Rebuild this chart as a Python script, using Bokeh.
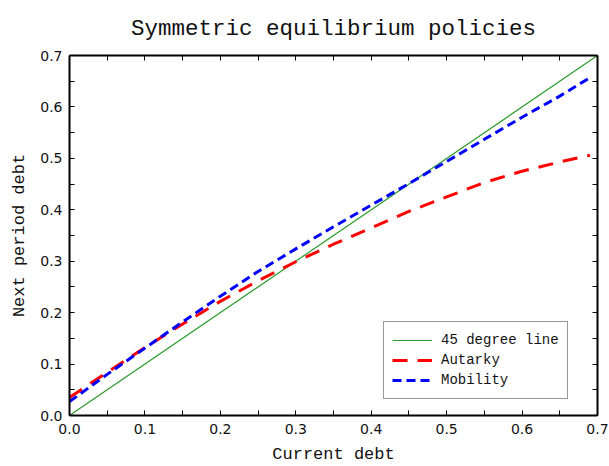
from bokeh.plotting import figure
from bokeh.models import (Range1d, LinearAxis, FixedTicker, Legend, LegendItem)
from bokeh.embed import file_html
from bokeh.resources import INLINE

# ---- data ----
diag_x = [0.0, 0.7]
diag_y = [0.0, 0.7]

debt_grid = [0.0, 0.05, 0.10, 0.15, 0.20, 0.25, 0.30, 0.35, 0.40, 0.45,
             0.50, 0.55, 0.60, 0.65, 0.69]
autarky = [0.035, 0.084, 0.132, 0.178, 0.222, 0.262, 0.299, 0.333, 0.365,
           0.397, 0.425, 0.453, 0.475, 0.493, 0.506]
mobility = [0.027, 0.080, 0.131, 0.182, 0.232, 0.280, 0.324, 0.367, 0.409,
            0.451, 0.494, 0.537, 0.580, 0.621, 0.657]

tick_values = [0.0, 0.1, 0.2, 0.3, 0.4, 0.5, 0.6, 0.7]
tick_labels = ["0.0", "0.1", "0.2", "0.3", "0.4", "0.5", "0.6", "0.7"]
minor_values = [0.05, 0.15, 0.25, 0.35, 0.45, 0.55, 0.65]

series_names = ["45 degree line", "Autarky", "Mobility"]

SERIF_MONO = "Liberation Mono"
TICK_FONT = "DejaVu Sans"

p = figure(width=609, height=466, output_backend="svg", toolbar_location=None,
           x_range=Range1d(0, 0.7), y_range=Range1d(0, 0.7),
           x_axis_label="Current debt", y_axis_label="Next period debt",
           title="Symmetric equilibrium policies",
           min_border_left=69, min_border_right=12, min_border_top=55,
           min_border_bottom=51)

p.title.align = "center"
p.title.text_font = SERIF_MONO
p.title.text_font_size = "22.5px"
p.title.text_font_style = "normal"
p.title.text_color = "#111111"
p.title.standoff = 27

p.xgrid.visible = False
p.ygrid.visible = False
p.outline_line_color = None
p.background_fill_color = "white"
p.border_fill_color = "white"

overrides = {v: l for v, l in zip(tick_values, tick_labels)}

top_axis = LinearAxis()
right_axis = LinearAxis()
p.add_layout(top_axis, "above")
p.add_layout(right_axis, "right")
bottom_axis = p.below[0]
left_axis = p.left[0]

for ax in [bottom_axis, left_axis, top_axis, right_axis]:
    ax.ticker = FixedTicker(ticks=tick_values, minor_ticks=minor_values)
    ax.major_label_overrides = overrides
    ax.axis_line_color = "black"
    ax.axis_line_width = 2
    ax.major_tick_in = 5
    ax.major_tick_out = 0
    ax.minor_tick_in = 5
    ax.minor_tick_out = 0
    ax.major_tick_line_color = "black"
    ax.minor_tick_line_color = "black"
    ax.major_tick_line_width = 1
    ax.minor_tick_line_width = 1
    ax.major_label_text_font = TICK_FONT
    ax.major_label_text_font_size = "14px"
    ax.major_label_text_color = "#111111"
    ax.axis_label_text_font = SERIF_MONO
    ax.axis_label_text_font_size = "17px"
    ax.axis_label_text_font_style = "normal"
    ax.axis_label_text_color = "#111111"

for ax in [top_axis, right_axis]:
    ax.major_label_text_font_size = "0px"
    ax.major_label_text_alpha = 0
right_axis.major_label_standoff = 0
top_axis.major_label_standoff = 13
top_axis.axis_label_standoff = 11

bottom_axis.major_label_standoff = 8
bottom_axis.axis_label_standoff = 8
left_axis.major_label_standoff = 7
left_axis.axis_label_standoff = 8

r_diag = p.line(diag_x, diag_y, line_color="#2a9a2a", line_width=1.2)
r_aut = p.line(debt_grid, autarky, line_color="red", line_width=3,
               line_dash="15 10")
r_mob = p.line(debt_grid, mobility, line_color="blue", line_width=3,
               line_dash="9 5")

legend = Legend(items=[LegendItem(label=series_names[0], renderers=[r_diag]),
                       LegendItem(label=series_names[1], renderers=[r_aut]),
                       LegendItem(label=series_names[2], renderers=[r_mob])],
                location=(314, 16))
legend.label_text_font = SERIF_MONO
legend.label_text_font_size = "14px"
legend.label_text_color = "#111111"
legend.glyph_width = 40
legend.glyph_height = 20
legend.label_height = 20
legend.spacing = 0
legend.padding = 8
legend.margin = 0
legend.label_standoff = 9
legend.border_line_color = "#333333"
legend.border_line_width = 1
legend.background_fill_color = "white"
legend.background_fill_alpha = 1
p.add_layout(legend, "center")

open("out.html", "w").write(file_html(p, INLINE))
